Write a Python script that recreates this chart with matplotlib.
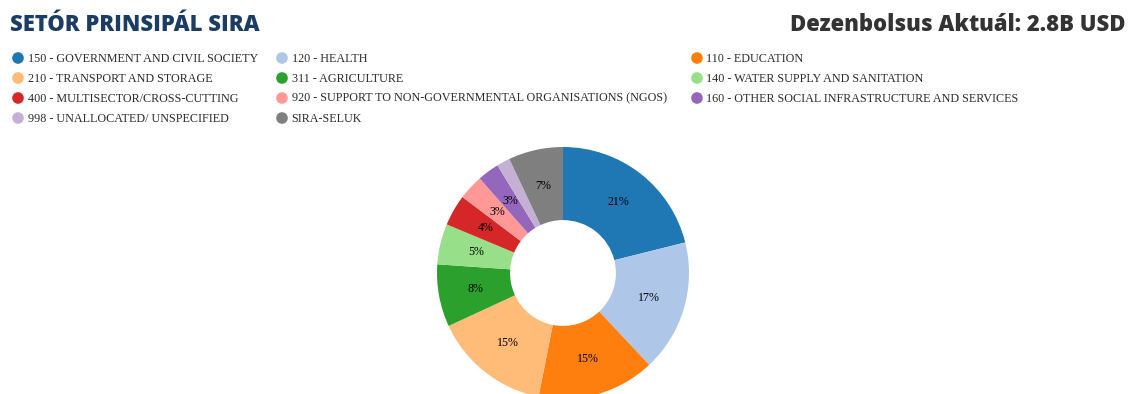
import matplotlib.pyplot as plt

# sector shares (percent), clockwise from 12 o'clock
sectors = ['150 - GOVERNMENT AND CIVIL SOCIETY', '120 - HEALTH', '110 - EDUCATION',
           '210 - TRANSPORT AND STORAGE', '311 - AGRICULTURE', '140 - WATER SUPPLY AND SANITATION',
           '400 - MULTISECTOR/CROSS-CUTTING', '920 - SUPPORT TO NON-GOVERNMENTAL ORGANISATIONS (NGOS)',
           '160 - OTHER SOCIAL INFRASTRUCTURE AND SERVICES', '998 - UNALLOCATED/ UNSPECIFIED', 'SIRA-SELUK']
shares = [21.1, 16.9, 15.1, 15.0, 8.0, 5.2, 4.0, 3.2, 2.8, 1.7, 7.0]
colors = ['#1f77b4', '#aec7e8', '#ff7f0e', '#ffbb78', '#2ca02c', '#98df8a',
          '#d62728', '#ff9896', '#9467bd', '#c5b0d5', '#7f7f7f']

W, H = 1129, 394
fig = plt.figure(figsize=(W / 100, H / 100), dpi=100)

# header
fig.text(10 / W, 1 - 25 / H, 'SETÓR PRINSIPÁL SIRA', fontsize=15.8, fontweight='heavy',
         family='Open Sans', color='#1c3d63', va='center', ha='left')
fig.text(1125 / W, 1 - 25 / H, 'Dezenbolsus Aktuál: 2.8B USD', fontsize=15.8, fontweight='heavy',
         family='Open Sans', color='#333333', va='center', ha='right')

# legend, drawn by hand in 3 columns
leg = fig.add_axes([0, 0, 1, 1])
leg.set_xlim(0, W)
leg.set_ylim(H, 0)
leg.axis('off')
col_x = [18, 282, 697]
row_y = [58, 78, 98, 118]
for i, (name, c) in enumerate(zip(sectors, colors)):
    x = col_x[i % 3]
    y = row_y[i // 3]
    leg.scatter([x], [y], s=70, color=c, edgecolors='none')
    leg.text(x + 9.5, y + 0.5, name, fontsize=8.7, family='Liberation Serif',
             color='#2b2b2b', va='center', ha='left')

# donut
cx, cy, R = 563, 273, 126
ax = fig.add_axes([(cx - R) / W, (H - cy - R) / H, 2 * R / W, 2 * R / H])


def pct(p):
    return f'{p:.0f}%' if p >= 2.5 else ''


wedges, texts, autotexts = ax.pie(shares, colors=colors, startangle=90, counterclock=False,
                                  radius=1, pctdistance=0.71, autopct=pct,
                                  wedgeprops=dict(width=0.58, edgecolor='none'),
                                  textprops=dict(fontsize=8.6, family='Liberation Serif', color='black'))
ax.set_xlim(-1, 1)
ax.set_ylim(-1, 1)
ax.set_aspect('equal')

fig.savefig('out.png', dpi=100)
